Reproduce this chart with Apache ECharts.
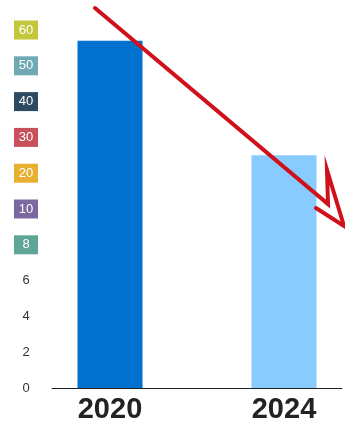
<!DOCTYPE html>
<html><head><meta charset="utf-8">
<script src="https://cdn.jsdelivr.net/npm/echarts@6/dist/echarts.min.js"></script>
<style>html,body{margin:0;padding:0;background:#fff}#c{width:345px;height:428px}</style>
</head><body><div id="c"></div>
<script>
// Data
var categories = ['2020', '2024'];
var values = [57, 25];
var barColors = ['#0072CE', '#88CCFF'];
// Y tick labels (evenly spaced on the axis, piecewise scale)
var tickLabels = ['0', '2', '4', '6', '8', '10', '20', '30', '40', '50', '60'];
var tickValues = [0, 2, 4, 6, 8, 10, 20, 30, 40, 50, 60];
var tickBoxColors = [null, null, null, null, '#5FA697', '#7A68A1', '#E7B031', '#C8505A', '#2D4A63', '#6FA9B4', '#C3C73A'];

// piecewise mapping of a real value to its position on the evenly spaced tick axis
function toAxis(v) {
  for (var i = 1; i < tickValues.length; i++) {
    if (v <= tickValues[i]) {
      return (i - 1) + (v - tickValues[i - 1]) / (tickValues[i] - tickValues[i - 1]);
    }
  }
  return tickValues.length - 1;
}

// category slots: place the two years at 1/5 and 4/5 of the axis width
var slots = ['', categories[0], '', '', categories[1], ''];
var slotData = slots.map(function (s) {
  var idx = categories.indexOf(s);
  if (idx < 0 || s === '') return null;
  return { value: toAxis(values[idx]), itemStyle: { color: barColors[idx] } };
});

var rich = {};
tickLabels.forEach(function (t, i) {
  if (tickBoxColors[i]) {
    rich['b' + i] = { backgroundColor: tickBoxColors[i], color: '#fff', width: 14, align: 'center', padding: [3, 5, 3, 5], fontSize: 13, lineHeight: 13 };
  } else {
    rich['p' + i] = { color: '#333', fontSize: 13, align: 'center' };
  }
});

var chart = echarts.init(document.getElementById('c'), null, { renderer: 'canvas' });
chart.setOption({
  animation: false,
  grid: { left: 52, right: 0, top: 30, bottom: 40, containLabel: false },
  xAxis: {
    type: 'category',
    data: slots,
    boundaryGap: false,
    axisLine: { show: true, lineStyle: { color: '#222', width: 1 } },
    axisTick: { show: false },
    axisLabel: {
      interval: 0,
      margin: 7,
      fontSize: 29,
      fontWeight: 'bold',
      color: '#222',
      fontFamily: 'Liberation Sans, Arial, sans-serif'
    },
    splitLine: { show: false }
  },
  yAxis: {
    type: 'value',
    min: 0,
    max: tickLabels.length - 1,
    interval: 1,
    axisLine: { show: false },
    axisTick: { show: false },
    splitLine: { show: false },
    axisLabel: {
      margin: 26,
      align: 'center',
      fontFamily: 'Liberation Sans, Arial, sans-serif',
      formatter: function (v) {
        var i = Math.round(v);
        return tickBoxColors[i] ? '{b' + i + '|' + tickLabels[i] + '}' : '{p' + i + '|' + tickLabels[i] + '}';
      },
      rich: rich
    }
  },
  series: [{
    type: 'bar',
    data: slotData,
    barWidth: 65,
    barGap: '0%'
  }],
  graphic: [{
    type: 'polyline',
    z: 100,
    shape: { points: [[95, 8], [328, 204], [327, 170], [344, 226], [316, 208]] },
    style: { stroke: '#D0101A', lineWidth: 4, fill: null, lineJoin: 'miter', lineCap: 'round' }
  }]
});
</script></body></html>
